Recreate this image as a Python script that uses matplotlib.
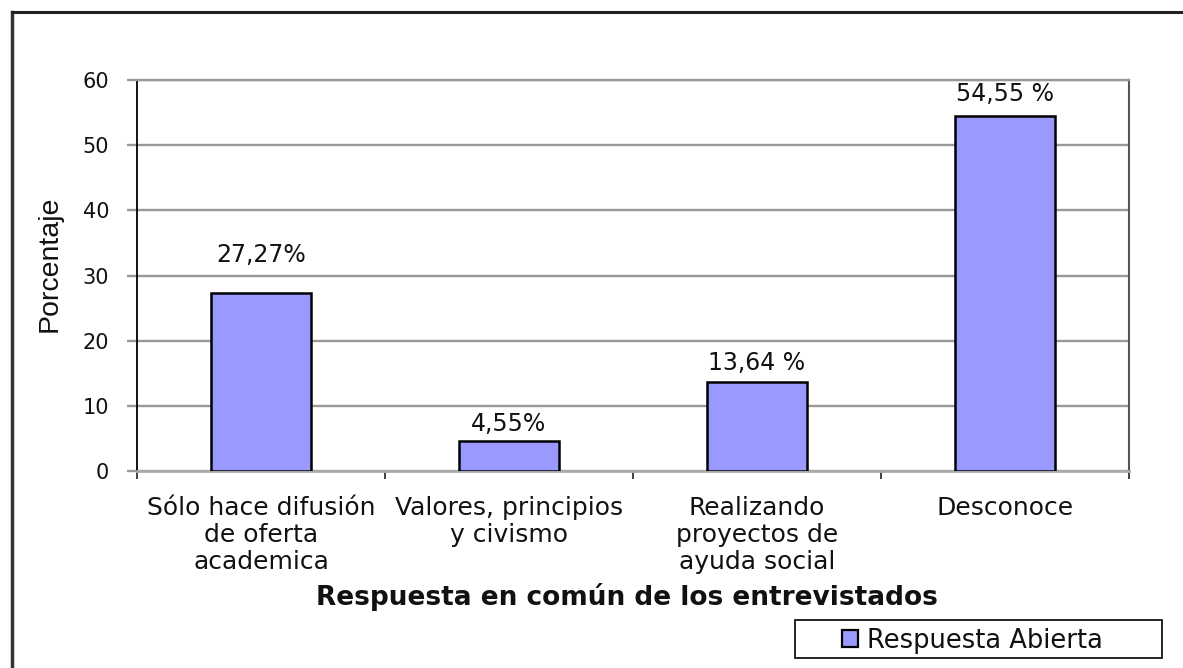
import matplotlib
matplotlib.use("Agg")
import matplotlib.pyplot as plt
from matplotlib.lines import Line2D
from matplotlib.patches import Patch, Rectangle

categorias = ["Sólo hace difusión\nde oferta\nacademica",
              "Valores, principios\ny civismo",
              "Realizando\nproyectos de\nayuda social",
              "Desconoce"]
porcentajes = [27.27, 4.55, 13.64, 54.55]
etiquetas = ["27,27%", "4,55%", "13,64 %", "54,55 %"]
y_ticks = [0, 10, 20, 30, 40, 50, 60]

COLOR_BARRA = "#9999FF"
GRIS = "#999999"
TEXTO = "#111111"
FUENTE = ["DejaVu Sans"]
W, H = 1183, 668

fig = plt.figure(figsize=(W / 100, H / 100), dpi=100)
ax = fig.add_axes([137 / W, 1 - 471 / H, (1129 - 137) / W, (471 - 80) / H])

x = list(range(len(categorias)))
ax.bar(x, porcentajes, width=0.4, color=COLOR_BARRA, edgecolor="black", linewidth=1.8, zorder=3)

# etiquetas de valor sobre cada barra (la primera va más arriba, como en el original)
offs = [19, 4, 5, 7]
for xi, v, t, o in zip(x, porcentajes, etiquetas, offs):
    ax.annotate(t, (xi, v), xytext=(0, o), textcoords="offset points",
                ha="center", va="bottom", fontsize=17, family=FUENTE, color=TEXTO)

ax.set_xlim(-0.5, len(categorias) - 0.5)
ax.set_ylim(0, 60)
ax.set_yticks(y_ticks)
ax.yaxis.grid(True, color=GRIS, linewidth=1.7, zorder=0)
ax.tick_params(axis="y", length=7, color=GRIS, width=1.7, labelsize=15, pad=13)
for lab in ax.get_yticklabels():
    lab.set_family(FUENTE)
    lab.set_color(TEXTO)

ax.set_xticks(x)
ax.set_xticklabels(categorias, fontsize=18, family=FUENTE, color=TEXTO, linespacing=1.15)
ax.tick_params(axis="x", length=0, pad=18)
ax.set_xticks([i - 0.5 for i in range(len(categorias) + 1)], minor=True)
ax.tick_params(axis="x", which="minor", length=6, color="#222222", width=1.2)

ax.spines["top"].set_color(GRIS)
ax.spines["top"].set_linewidth(1.7)
ax.spines["bottom"].set_color("#aaaaaa")
ax.spines["bottom"].set_linewidth(2.0)
ax.spines["right"].set_color("#555555")
ax.spines["right"].set_linewidth(1.5)
ax.spines["left"].set_color("black")
ax.spines["left"].set_linewidth(1.3)

ax.set_ylabel("Porcentaje", fontsize=20.5, family=["Liberation Sans"], color=TEXTO)
ax.yaxis.set_label_coords((63 - 137) / 992, (471 - 264) / 391)
ax.set_xlabel("Respuesta en común de los entrevistados", fontsize=19, fontweight="bold",
              family=FUENTE, color=TEXTO)
ax.xaxis.set_label_coords((627 - 137) / 992, (471 - 583) / 391)

# leyenda: caja dibujada aparte, contenido sin marco
fig.add_artist(Rectangle((795 / W, 1 - 658 / H), (1162 - 795) / W, (658 - 620) / H,
                         transform=fig.transFigure, facecolor="white", edgecolor="black",
                         linewidth=1.2))
leg = fig.legend(handles=[Patch(facecolor=COLOR_BARRA, edgecolor="black", linewidth=1.6,
                                label="Respuesta Abierta")],
                 loc="center left", bbox_to_anchor=(842 / W, 1 - 640.5 / H),
                 prop={"family": FUENTE, "size": 18.5}, frameon=False,
                 handlelength=0.62, handleheight=0.62, handletextpad=0.35, borderpad=0,
                 borderaxespad=0)
for t in leg.get_texts():
    t.set_color(TEXTO)

# marco exterior (solo izquierda y arriba visibles en el recorte)
fig.add_artist(Line2D([12 / W, 12 / W], [0, 1 - 12 / H], transform=fig.transFigure,
                      color="#333333", linewidth=2.5))
fig.add_artist(Line2D([12 / W, 1], [1 - 12 / H, 1 - 12 / H], transform=fig.transFigure,
                      color="#222222", linewidth=2.2))

fig.savefig("out.png", dpi=100)
